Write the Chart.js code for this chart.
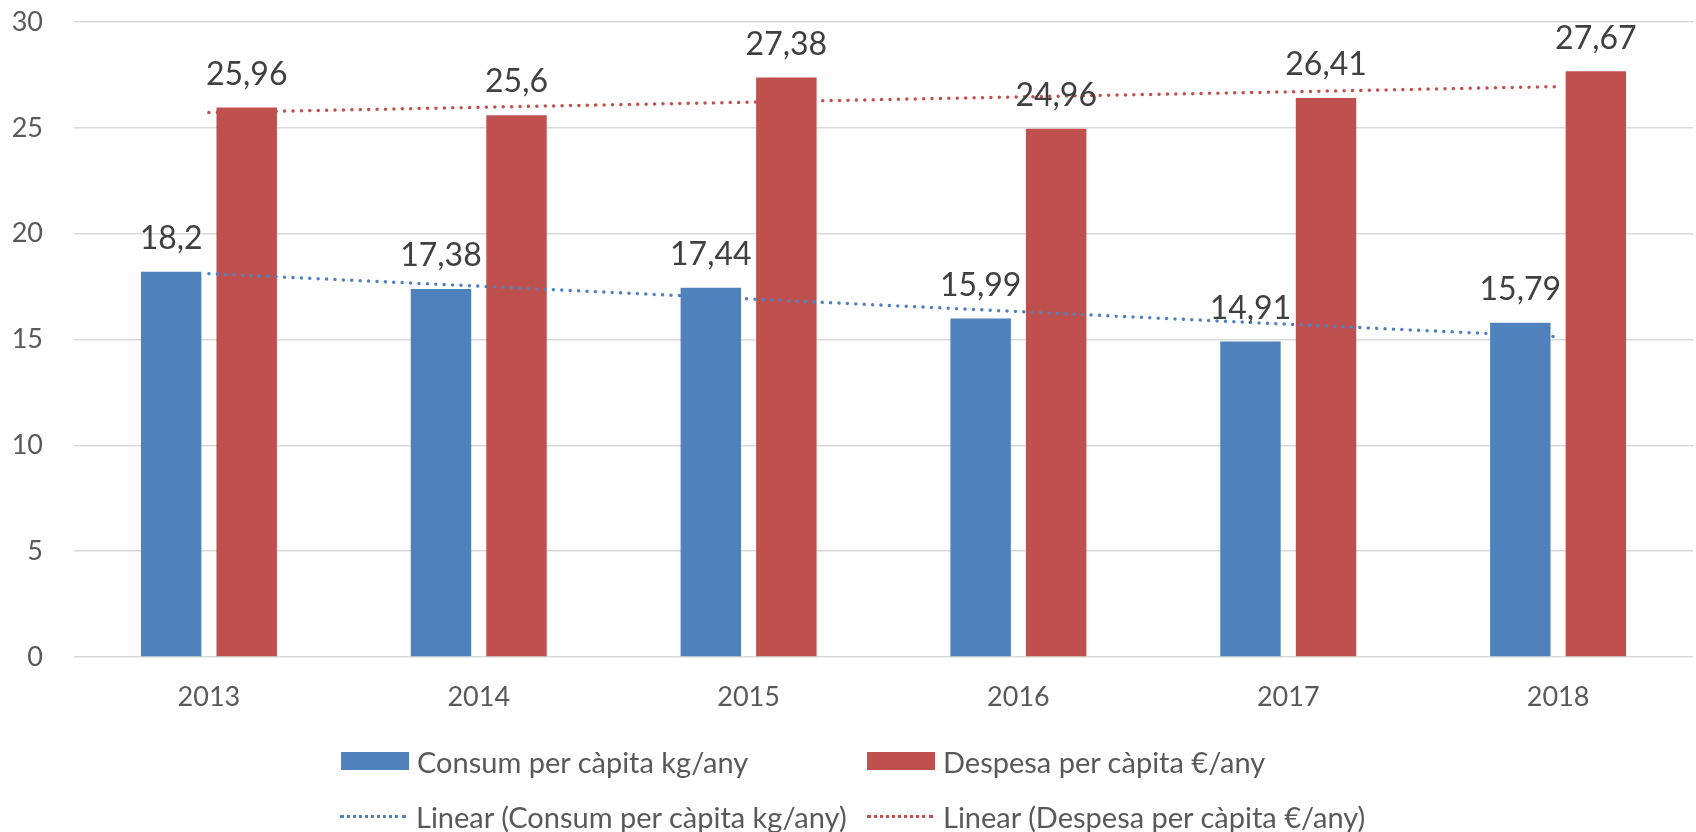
<!DOCTYPE html>
<html>
<head>
<meta charset="utf-8">
<script src="https://cdn.jsdelivr.net/npm/chart.js@4"></script>
<style>
  body { margin: 0; background: #fff; }
  #wrap { position: relative; width: 1696px; height: 832px; }
  .item { position: absolute; height: 30px; display: flex; align-items: center;
          font-family: Lato, sans-serif; font-size: 29px; color: #595959; white-space: nowrap; }
  .box { width: 68px; height: 18px; margin-right: 8px; }
  .dots { width: 66px; height: 0; margin-right: 10px; border-top: 3px dotted; }
</style>
</head>
<body>
<div id="wrap">
  <canvas id="myChart" width="1696" height="832"></canvas>
</div>
<script>
var years = ['2013', '2014', '2015', '2016', '2017', '2018'];
var consum = [18.2, 17.38, 17.44, 15.99, 14.91, 15.79];
var despesa = [25.96, 25.6, 27.38, 24.96, 26.41, 27.67];
// linear trend
var trendConsum = [18.11, 17.52, 16.92, 16.32, 15.72, 15.13];
var trendDespesa = [25.72, 25.97, 26.21, 26.46, 26.70, 26.95];
var yTicks = [0, 5, 10, 15, 20, 25, 30];

var blue = '#4f81bd';
var red = '#c0504d';

// values above the bars, with a decimal comma
var barLabels = {
  id: 'barLabels',
  afterDatasetsDraw: function(chart) {
    var ctx = chart.ctx;
    ctx.save();
    ctx.font = '32px Lato';
    ctx.fillStyle = '#404040';
    ctx.textAlign = 'center';
    ctx.textBaseline = 'middle';
    chart.data.datasets.forEach(function(ds, i) {
      if (ds.type !== 'bar') return;
      chart.getDatasetMeta(i).data.forEach(function(bar, j) {
        ctx.fillText(String(ds.data[j]).replace('.', ','), bar.x, bar.y - 33);
      });
    });
    ctx.restore();
  }
};

var ctx = document.getElementById('myChart').getContext('2d');
var chart = new Chart(ctx, {
  type: 'bar',
  data: {
    labels: years,
    datasets: [{
      type: 'bar',
      label: 'Consum per càpita kg/any',
      data: consum,
      backgroundColor: blue,
      order: 2
    }, {
      type: 'bar',
      label: 'Despesa per càpita €/any',
      data: despesa,
      backgroundColor: red,
      order: 2
    }, {
      type: 'line',
      label: 'Linear (Consum per càpita kg/any)',
      data: trendConsum,
      borderColor: blue,
      borderWidth: 3.5,
      borderDash: [0.01, 8.4],
      borderCapStyle: 'round',
      pointRadius: 0,
      fill: false,
      order: 1
    }, {
      type: 'line',
      label: 'Linear (Despesa per càpita €/any)',
      data: trendDespesa,
      borderColor: red,
      borderWidth: 3.5,
      borderDash: [0.01, 8.4],
      borderCapStyle: 'round',
      pointRadius: 0,
      fill: false,
      order: 1
    }]
  },
  options: {
    responsive: false,
    animation: false,
    layout: { padding: { top: 22, right: 3, bottom: 115, left: 0 } },
    plugins: {
      legend: { display: false },
      tooltip: { enabled: false }
    },
    datasets: {
      bar: { categoryPercentage: 0.56, barPercentage: 0.8 }
    },
    scales: {
      x: {
        afterFit: function(scale) {
          scale.height = 60;
          scale.paddingLeft = 0;
          scale.paddingRight = 0;
        },
        grid: { display: false, drawTicks: false },
        border: { display: false },
        ticks: { font: { family: 'Lato', size: 27 }, color: '#595959', padding: 24 }
      },
      y: {
        min: 0,
        max: 30,
        afterFit: function(scale) {
          scale.width = 74;
          scale.paddingTop = 0;
          scale.paddingBottom = 0;
        },
        afterBuildTicks: function(scale) {
          scale.ticks = yTicks.map(function(v) { return { value: v }; });
        },
        grid: { color: '#d9d9d9', lineWidth: 1.5, drawTicks: false },
        border: { display: false },
        ticks: { font: { family: 'Lato', size: 27 }, color: '#595959', padding: 31 }
      }
    }
  },
  plugins: [barLabels]
});

// legend laid out in two columns like the original
var legendPos = [[341, 746], [867, 746], [340, 801], [867, 801]];
chart.data.datasets.forEach(function(ds, i) {
  var item = document.createElement('div');
  item.className = 'item';
  item.style.left = legendPos[i][0] + 'px';
  item.style.top = legendPos[i][1] + 'px';
  var sym = document.createElement('span');
  if (ds.type === 'bar') {
    sym.className = 'box';
    sym.style.background = ds.backgroundColor;
  } else {
    sym.className = 'dots';
    sym.style.borderColor = ds.borderColor;
  }
  item.appendChild(sym);
  item.appendChild(document.createTextNode(ds.label));
  document.getElementById('wrap').appendChild(item);
});
</script>
</body>
</html>
